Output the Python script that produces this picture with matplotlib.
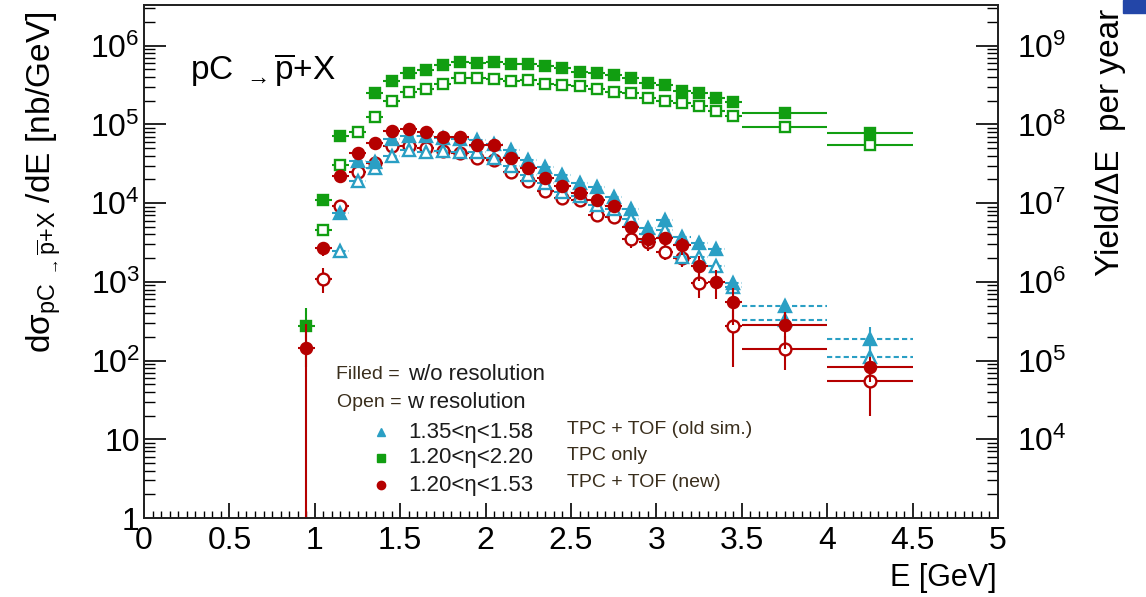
import numpy as np
import matplotlib
matplotlib.use('Agg')
import matplotlib.pyplot as plt
from matplotlib.ticker import FixedLocator, LogLocator, MultipleLocator, NullFormatter
from matplotlib.patches import Rectangle

plt.rcParams['font.family'] = ['Liberation Sans', 'DejaVu Sans']
plt.rcParams['mathtext.fontset'] = 'custom'
plt.rcParams['mathtext.rm'] = 'Liberation Sans'
plt.rcParams['mathtext.it'] = 'Liberation Sans:italic'
plt.rcParams['mathtext.sf'] = 'Liberation Sans'

# bin centres [GeV] and half widths
energy = [0.95, 1.05, 1.15, 1.25, 1.35, 1.45, 1.55, 1.65, 1.75, 1.85,
          1.95, 2.05, 2.15, 2.25, 2.35, 2.45, 2.55, 2.65, 2.75, 2.85,
          2.95, 3.05, 3.15, 3.25, 3.35, 3.45, 3.75, 4.25]
e_half = [0.05] * 26 + [0.25, 0.25]

nan = np.nan
# TPC only, 1.20<eta<2.20
green_filled = [275, 1.1e4, 7.2e4, nan, 2.5e5, 3.6e5, 4.5e5, 4.9e5, 5.7e5, 6.3e5,
                6.0e5, 6.2e5, 5.9e5, 5.9e5, 5.5e5, 5.2e5, 4.7e5, 4.5e5, 4.2e5, 3.9e5,
                3.4e5, 3.2e5, 2.7e5, 2.5e5, 2.2e5, 1.95e5, 1.38e5, 7.7e4]
green_open = [nan, 4.6e3, 3.1e4, 8.1e4, 1.26e5, 2.0e5, 2.6e5, 2.8e5, 3.3e5, 3.9e5,
              3.9e5, 3.8e5, 3.6e5, 3.7e5, 3.3e5, 3.2e5, 3.1e5, 2.8e5, 2.6e5, 2.5e5,
              2.2e5, 2.0e5, 1.9e5, 1.7e5, 1.5e5, 1.3e5, 9.4e4, 5.5e4]
# TPC + TOF (new), 1.20<eta<1.53
red_filled = [145, 2.7e3, 2.2e4, 4.4e4, 5.8e4, 8.3e4, 8.7e4, 8.1e4, 6.9e4, 6.9e4,
              5.5e4, 5.5e4, 3.8e4, 2.8e4, 2.1e4, 1.65e4, 1.34e4, 1.1e4, 9.1e3, 5.0e3,
              3.5e3, 3.6e3, 2.9e3, 1.6e3, 1.0e3, 560, 280, 83]
red_open = [nan, 1.1e3, 9.1e3, 2.5e4, 3.2e4, 5.4e4, 5.4e4, 5.0e4, 4.6e4, 4.4e4,
            3.8e4, 3.5e4, 2.5e4, 1.9e4, 1.44e4, 1.15e4, 1.1e4, 7.1e3, 6.7e3, 3.5e3,
            3.2e3, 2.4e3, 2.0e3, 980, nan, 275, 140, 55]
# TPC + TOF (old sim.), 1.35<eta<1.58
blue_filled = [nan, nan, 7.6e3, 3.4e4, 3.3e4, 6.6e4, 7.2e4, 7.1e4, 6.8e4, 6.5e4,
               6.3e4, 5.6e4, 4.7e4, 3.5e4, 2.9e4, 2.3e4, 1.8e4, 1.6e4, 1.2e4, 8.4e3,
               4.9e3, 6.1e3, 3.7e3, 3.1e3, 2.6e3, 980, 490, 190]
blue_open = [nan, nan, 2.5e3, 1.9e4, 2.8e4, 4.0e4, 4.8e4, 4.5e4, 4.6e4, 4.5e4,
             4.5e4, 3.8e4, 3.0e4, 2.3e4, 1.8e4, 1.4e4, 1.25e4, 9.5e3, 8.5e3, 6.3e3,
             4.1e3, 4.5e3, 2.1e3, 2.1e3, 1.6e3, 870, 330, 112]

# relative vertical errors
green_filled_err = [0.7] + [0.08] * 25 + [0.05, 0.05]
green_open_err = [0.08] * 26 + [0.05, 0.05]
red_filled_err = [0.999, 0.2, 0.15, 0.15, 0.15, 0.15, 0.15, 0.15, 0.15, 0.15,
                  0.15, 0.15, 0.15, 0.15, 0.15, 0.15, 0.15, 0.15, 0.15, 0.2,
                  0.2, 0.2, 0.25, 0.35, 0.4, 0.5, 0.5, 0.35]
red_open_err = [0.1, 0.35, 0.15, 0.15, 0.15, 0.15, 0.15, 0.15, 0.15, 0.15,
                0.15, 0.15, 0.15, 0.15, 0.15, 0.15, 0.15, 0.15, 0.15, 0.22,
                0.22, 0.22, 0.22, 0.37, 0.4, 0.7, 0.45, 0.64]
blue_filled_err = [0.1] * 26 + [0.2, 0.42]
blue_open_err = [0.1] * 26 + [0.15, 0.3]

GREEN = '#119e11'
RED = '#b50000'
BLUE = '#2a9fc4'

fig = plt.figure(figsize=(11.46, 5.97), dpi=100)
ax = fig.add_axes([144 / 1146, 1 - 518 / 597, 854 / 1146, 513 / 597])


def draw(vals, rel, color, marker, filled, ms, z, dashed=False):
    y = np.array(vals, float)
    up = y * np.array(rel)
    lo = np.minimum(up, y * 0.9999)
    res = ax.errorbar(energy, y, xerr=e_half, yerr=[lo, up], fmt=marker, color=color,
                      mfc=color if filled else 'white', mec=color, ms=ms, mew=1.7,
                      elinewidth=1.5, capsize=0, zorder=z)
    if dashed:
        res[2][0].set_linestyle((0, (2.5, 1.5)))
    return res


draw(green_filled, green_filled_err, GREEN, 's', True, 7, 3)
draw(green_open, green_open_err, GREEN, 's', False, 7.5, 3.2)
draw(red_open, red_open_err, RED, 'o', False, 8.5, 3.4)
draw(blue_open, blue_open_err, BLUE, '^', False, 8, 3.6, dashed=True)
draw(blue_filled, blue_filled_err, BLUE, '^', True, 8, 3.8, dashed=True)
draw(red_filled, red_filled_err, RED, 'o', True, 8, 4)

ax.set_xlim(0, 5)
ax.set_yscale('log')
ax.set_ylim(1, 10 ** 6.518)

ax.set_xticks([0, 0.5, 1, 1.5, 2, 2.5, 3, 3.5, 4, 4.5, 5])
ax.set_xticklabels(['0', '0.5', '1', '1.5', '2', '2.5', '3', '3.5', '4', '4.5', '5'])
ax.xaxis.set_minor_locator(MultipleLocator(0.05))

left_ticks = [1, 10, 1e2, 1e3, 1e4, 1e5, 1e6]
ax.yaxis.set_major_locator(FixedLocator(left_ticks))
ax.set_yticklabels(['1', '10', '$10^{2}$', '$10^{3}$', '$10^{4}$', '$10^{5}$', '$10^{6}$'])
ax.yaxis.set_minor_locator(LogLocator(base=10, subs=np.arange(2, 10), numticks=20))
ax.yaxis.set_minor_formatter(NullFormatter())

ax.tick_params(axis='both', which='both', direction='in', top=False, right=False)
ax.tick_params(axis='y', which='major', length=16, width=1.2, pad=3, labelsize=23)
ax.tick_params(axis='y', which='minor', length=8, width=1.0)
ax.tick_params(axis='x', which='major', length=11, width=1.2, pad=6, labelsize=23)
ax.tick_params(axis='x', which='minor', length=5, width=1.0)

ax2 = ax.twinx()
ax2.set_yscale('log')
ax2.set_ylim(1e3, 10 ** 9.518)
ax2.yaxis.set_major_locator(FixedLocator([1e4, 1e5, 1e6, 1e7, 1e8, 1e9]))
ax2.set_yticklabels(['$10^{4}$', '$10^{5}$', '$10^{6}$', '$10^{7}$', '$10^{8}$', '$10^{9}$'])
ax2.yaxis.set_minor_locator(LogLocator(base=10, subs=np.arange(2, 10), numticks=20))
ax2.yaxis.set_minor_formatter(NullFormatter())
ax2.tick_params(axis='y', which='both', direction='in', labelsize=23)
ax2.tick_params(axis='y', which='major', length=16, width=1.2, pad=14)
ax2.tick_params(axis='y', which='minor', length=8, width=1.0)

for a in (ax, ax2):
    for s in a.spines.values():
        s.set_linewidth(1.3)
        s.set_color('#222222')

# title text inside the frame
ax.text(0.054, 0.873, r'pC $_{\rightarrow}\overline{\mathrm{p}}$+X', transform=ax.transAxes,
        fontsize=24, ha='left', va='center')

# legend block
txt_dark = '#3a2e1c'
ax.text(0.2248, 0.2788, 'Filled =', transform=ax.transAxes, fontsize=14, color=txt_dark, va='center')
ax.text(0.309, 0.2788, 'w/o resolution', transform=ax.transAxes, fontsize=16, color='#1c1c1c', va='center')
ax.text(0.226, 0.2242, 'Open =', transform=ax.transAxes, fontsize=14, color=txt_dark, va='center')
ax.text(0.308, 0.2242, 'w resolution', transform=ax.transAxes, fontsize=16, color='#1c1c1c', va='center')

leg_marks = ['^', 's', 'o']
leg_cols = [BLUE, GREEN, RED]
leg_eta = ['1.35<η<1.58', '1.20<η<2.20', '1.20<η<1.53']
leg_det = ['TPC + TOF (old sim.)', 'TPC only', 'TPC + TOF (new)']
leg_y = [0.1676, 0.117, 0.0643]
for m, c, eta, det, yy in zip(leg_marks, leg_cols, leg_eta, leg_det, leg_y):
    ax.plot([0.2775], [yy], marker=m, color=c, ms=6, ls='none', transform=ax.transAxes, clip_on=False)
    ax.text(0.309, yy, eta, transform=ax.transAxes, fontsize=16, color='#1c1c1c', va='center')
    ax.text(0.4953, yy + 0.004, det, transform=ax.transAxes, fontsize=14, color=txt_dark, va='center')

# axis titles
fig.text(44 / 1146, 1 - 182 / 597,
         r'dσ$_{\mathrm{pC}\ _{\rightarrow}\overline{\mathrm{p}}\mathrm{+X}}$ /dE [nb/GeV]',
         rotation=90, ha='center', va='center', fontsize=24)
fig.text(1110 / 1146, 1 - 142 / 597, 'Yield/ΔE  per year', rotation=90,
         ha='center', va='center', fontsize=24)
fig.text(997 / 1146, 1 - 578 / 597, 'E [GeV]', ha='right', va='center', fontsize=22)

fig.patches.append(Rectangle((1123 / 1146, 1 - 13 / 597), 23 / 1146, 13 / 597,
                             transform=fig.transFigure, color='#2346a8'))

fig.savefig('out.png', dpi=100)
